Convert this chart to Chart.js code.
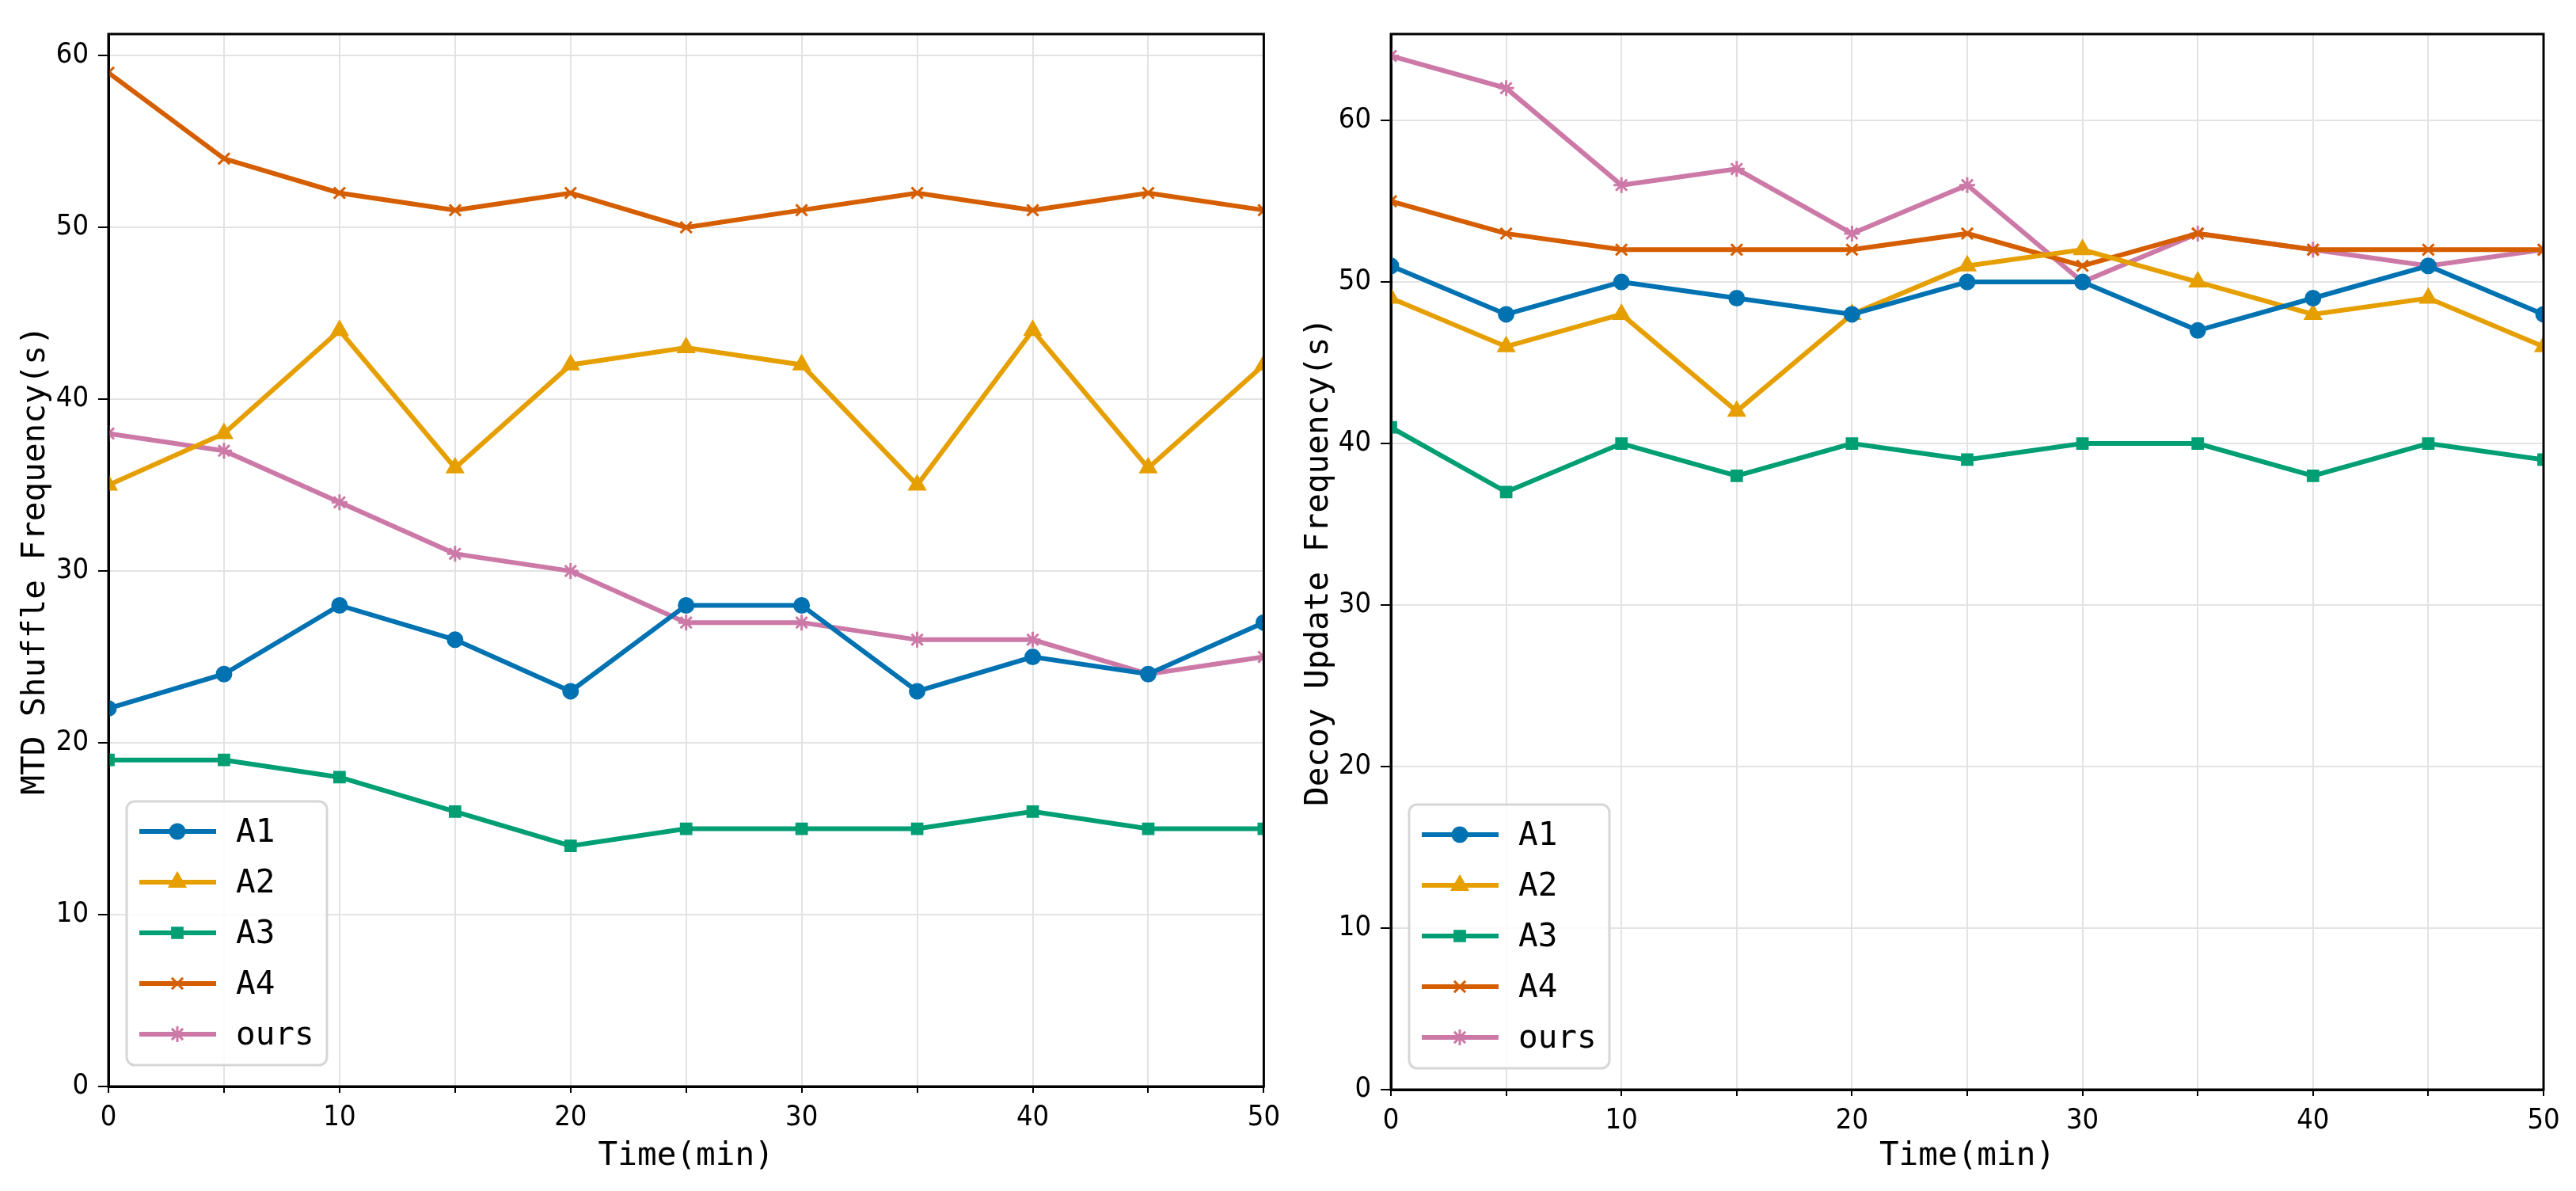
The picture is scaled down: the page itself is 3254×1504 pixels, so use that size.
<!DOCTYPE html>
<html>
<head>
<meta charset="utf-8">
<script src="https://cdn.jsdelivr.net/npm/chart.js@4.4.1/dist/chart.umd.min.js"></script>
<style>
  html, body { margin: 0; padding: 0; background: #fff; }
  #wrap { position: relative; width: 3254px; height: 1504px; }
  .panel { position: absolute; top: 0; width: 1627px; height: 1504px; }
</style>
</head>
<body>
<div id="wrap">
  <div class="panel" style="left:0"><canvas id="shuffleChart" width="1627" height="1504"></canvas></div>
  <div class="panel" style="left:1627px"><canvas id="decoyChart" width="1627" height="1504"></canvas></div>
</div>
<script>
// x positions (minutes)
var times = [0, 5, 10, 15, 20, 25, 30, 35, 40, 45, 50];
var seriesNames = ['A1', 'A2', 'A3', 'A4', 'ours'];

// left panel: MTD shuffle frequency (s)
var shuffleA1 = [22, 24, 28, 26, 23, 28, 28, 23, 25, 24, 27];
var shuffleA2 = [35, 38, 44, 36, 42, 43, 42, 35, 44, 36, 42];
var shuffleA3 = [19, 19, 18, 16, 14, 15, 15, 15, 16, 15, 15];
var shuffleA4 = [59, 54, 52, 51, 52, 50, 51, 52, 51, 52, 51];
var shuffleOurs = [38, 37, 34, 31, 30, 27, 27, 26, 26, 24, 25];

// right panel: decoy update frequency (s)
var decoyA1 = [51, 48, 50, 49, 48, 50, 50, 47, 49, 51, 48];
var decoyA2 = [49, 46, 48, 42, 48, 51, 52, 50, 48, 49, 46];
var decoyA3 = [41, 37, 40, 38, 40, 39, 40, 40, 38, 40, 39];
var decoyA4 = [55, 53, 52, 52, 52, 53, 51, 53, 52, 52, 52];
var decoyOurs = [64, 62, 56, 57, 53, 56, 50, 53, 52, 51, 52];

var yTicks = [0, 10, 20, 30, 40, 50, 60];

var colors = ['#0072B2', '#E69F00', '#009E73', '#D55E00', '#CC79A7'];
var markers = ['circle', 'triangle', 'rect', 'crossRot', 'star'];
var markerSizes = [9, 11, 9, 10, 10];

var tickFont = { family: "'Liberation Sans Narrow', 'DejaVu Sans Condensed', sans-serif", size: 36 };
var titleFont = { family: "'DejaVu Sans Mono', 'Liberation Mono', monospace", size: 41 };

// frame around the plot + legend box in the lower left corner
var frameAndLegend = {
  id: 'frameAndLegend',
  afterDatasetsDraw: function(chart) {
    var ctx = chart.ctx;
    var area = chart.chartArea;
    ctx.save();
    ctx.strokeStyle = '#000';
    ctx.lineWidth = 3;
    ctx.strokeRect(area.left, area.top, area.right - area.left, area.bottom - area.top);

    var w = 253, h = 333;
    var x0 = area.left + 23, y0 = area.bottom - 27 - h;
    ctx.beginPath();
    if (ctx.roundRect) ctx.roundRect(x0, y0, w, h, 10); else ctx.rect(x0, y0, w, h);
    ctx.fillStyle = 'rgba(255,255,255,0.85)';
    ctx.fill();
    ctx.strokeStyle = '#d6d6d6';
    ctx.lineWidth = 3;
    ctx.stroke();

    chart.data.datasets.forEach(function(ds, i) {
      var y = y0 + 38 + i * 64;
      ctx.strokeStyle = ds.borderColor;
      ctx.lineWidth = ds.borderWidth;
      ctx.beginPath();
      ctx.moveTo(x0 + 16, y);
      ctx.lineTo(x0 + 113, y);
      ctx.stroke();
      ctx.fillStyle = ds.backgroundColor;
      ctx.lineWidth = ds.pointBorderWidth;
      if (Chart.helpers && Chart.helpers.drawPoint) {
        Chart.helpers.drawPoint(ctx, { pointStyle: ds.pointStyle, radius: ds.pointRadius, borderWidth: ds.pointBorderWidth, rotation: 0 }, x0 + 64, y);
      }
      ctx.fillStyle = '#000';
      ctx.font = "41px 'DejaVu Sans Mono', monospace";
      ctx.textBaseline = 'middle';
      ctx.fillText(ds.label, x0 + 138, y + 2);
    });
    ctx.restore();
  }
};

function makeDatasets(lists) {
  return seriesNames.map(function(name, i) {
    return {
      label: name,
      data: times.map(function(t, j) { return { x: t, y: lists[i][j] }; }),
      borderColor: colors[i],
      backgroundColor: colors[i],
      borderWidth: 6,
      pointStyle: markers[i],
      pointRadius: markerSizes[i],
      pointBorderWidth: 3,
      pointBorderColor: colors[i],
      pointBackgroundColor: colors[i],
      tension: 0,
      clip: 0
    };
  });
}

function buildChart(id, lists, yMax, yTitle, yWidth, titlePad, padRight, xHeight) {
  return new Chart(document.getElementById(id), {
    type: 'line',
    data: { datasets: makeDatasets(lists) },
    options: {
      responsive: false,
      animation: false,
      layout: { padding: { top: 43, right: padRight, left: 0, bottom: 0 } },
      plugins: { legend: { display: false }, tooltip: { enabled: false } },
      scales: {
        x: {
          type: 'linear',
          min: 0,
          max: 50,
          afterFit: function(s) { s.height = xHeight; },
          ticks: {
            stepSize: 5,
            autoSkip: false,
            maxRotation: 0,
            includeBounds: false,
            padding: 10,
            color: '#000',
            font: tickFont,
            callback: function(v) { return v % 10 === 0 ? String(v) : ''; }
          },
          grid: { color: '#e3e3e3', lineWidth: 2, tickLength: 8, tickColor: '#000', tickWidth: 2 },
          border: { color: '#000', width: 3 },
          title: { display: true, text: 'Time(min)', color: '#000', font: titleFont, padding: { top: 0, bottom: 19 } }
        },
        y: {
          min: 0,
          max: yMax,
          afterFit: function(s) { s.width = yWidth; },
          afterBuildTicks: function(s) { s.ticks = yTicks.map(function(v) { return { value: v }; }); },
          ticks: {
            includeBounds: false,
            padding: 12,
            color: '#000',
            font: tickFont
          },
          grid: { color: '#e3e3e3', lineWidth: 2, tickLength: 13, tickColor: '#000', tickWidth: 2 },
          border: { color: '#000', width: 3 },
          title: { display: true, text: yTitle, color: '#000', font: titleFont, padding: { top: titlePad, bottom: 0 } }
        }
      }
    },
    plugins: [frameAndLegend]
  });
}

buildChart('shuffleChart', [shuffleA1, shuffleA2, shuffleA3, shuffleA4, shuffleOurs],
  61.25, 'MTD Shuffle Frequency(s)', 137, 21, 29, 132);
buildChart('decoyChart', [decoyA1, decoyA2, decoyA3, decoyA4, decoyOurs],
  65.35, 'Decoy Update Frequency(s)', 130, 15, 41, 128);
</script>
</body>
</html>
